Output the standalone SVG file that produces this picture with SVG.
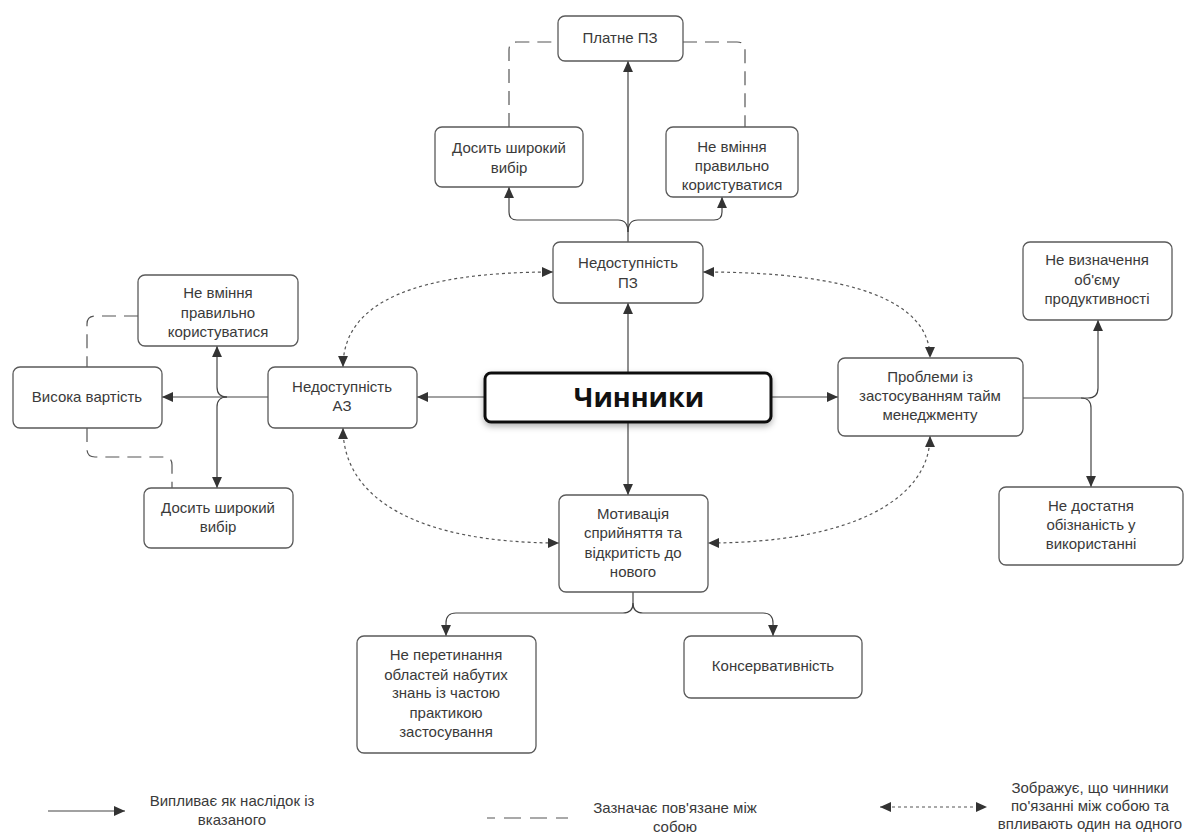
<svg xmlns="http://www.w3.org/2000/svg" width="1194" height="837" viewBox="0 0 1194 837">
<style>
.box{fill:#fff;stroke:#5a5a5a;stroke-width:1.3}
.t{font-family:"Liberation Sans",Arial,sans-serif;font-size:15px;fill:#3a3a3a;text-anchor:middle}
.ln{fill:none;stroke:#444;stroke-width:1.2}
.dash{fill:none;stroke:#555;stroke-width:1.2;stroke-dasharray:14 8}
.dot{fill:none;stroke:#555;stroke-width:1.2;stroke-dasharray:3 3}
</style>
<defs>
<marker id="ah" viewBox="0 0 10 10" refX="10" refY="5" markerWidth="11" markerHeight="11" markerUnits="userSpaceOnUse" orient="auto-start-reverse">
<path d="M0,0.5 L10,5 L0,9.5 z" fill="#333"/>
</marker>
<filter id="sh" x="-10%" y="-30%" width="120%" height="170%">
<feDropShadow dx="0" dy="3" stdDeviation="3" flood-color="#000" flood-opacity="0.3"/>
</filter>
</defs>
<rect width="1194" height="837" fill="#fff"/>

<g id="connectors">
<path class="ln" d="M628,373 L628,303" marker-end="url(#ah)"/>
<path class="ln" d="M628,422 L628,495" marker-end="url(#ah)"/>
<path class="ln" d="M485,397 L417,397" marker-end="url(#ah)"/>
<path class="ln" d="M771,397 L838,397" marker-end="url(#ah)"/>
<path class="ln" d="M628,242 L628,61" marker-end="url(#ah)"/>
<path class="ln" d="M628,232 Q628,220 618,220 L517,220 Q509,220 509,212 L509,187" marker-end="url(#ah)"/>
<path class="ln" d="M628,232 Q628,220 638,220 L714,220 Q722,220 722,212 L722,197" marker-end="url(#ah)"/>
<path class="dash" d="M509,127 L509,50 Q509,42 517,42 L558,42"/>
<path class="dash" d="M683,42 L737,42 Q745,42 745,50 L745,127"/>
<path class="ln" d="M268,397 L162,397" marker-end="url(#ah)"/>
<path class="ln" d="M227,397 Q217,397 217,387 L217,346" marker-end="url(#ah)"/>
<path class="ln" d="M227,397 Q217,397 217,407 L217,488" marker-end="url(#ah)"/>
<path class="dash" d="M138,316 L95,316 Q87,316 87,324 L87,367"/>
<path class="dash" d="M87,428 L87,449 Q87,457 95,457 L164,457 Q172,457 172,465 L172,488"/>
<path class="ln" d="M1023,398 L1088,398 Q1098,398 1098,388 L1098,320" marker-end="url(#ah)"/>
<path class="ln" d="M1081,398 Q1091,398 1091,408 L1091,487" marker-end="url(#ah)"/>
<path class="ln" d="M633,592 L633,603 Q633,613 623,613 L456,613 Q446,613 446,623 L446,636" marker-end="url(#ah)"/>
<path class="ln" d="M633,603 Q633,613 643,613 L763,613 Q773,613 773,623 L773,636" marker-end="url(#ah)"/>
<path class="dot" d="M553,272 C420,272 343,300 343,367" marker-start="url(#ah)" marker-end="url(#ah)"/>
<path class="dot" d="M703,272 C850,272 930,300 930,358" marker-start="url(#ah)" marker-end="url(#ah)"/>
<path class="dot" d="M343,428 C343,500 420,543 559,543" marker-start="url(#ah)" marker-end="url(#ah)"/>
<path class="dot" d="M930,436 C930,500 850,543 708,543" marker-start="url(#ah)" marker-end="url(#ah)"/>
</g>

<g id="n-chynnyky">
<rect x="485" y="373" width="286" height="49" rx="6" fill="#fff" stroke="#111" stroke-width="3" filter="url(#sh)"/>
<text x="639" y="407" font-family="'Open Sans','Liberation Sans',sans-serif" font-size="27" font-weight="bold" fill="#111" text-anchor="middle">Чинники</text>
</g>

<g id="n-platne">
<rect class="box" x="558" y="16" width="125" height="45" rx="7"/>
<text class="t" x="620" y="43">Платне ПЗ</text>
</g>

<g id="n-vybir-top">
<rect class="box" x="435" y="127" width="148" height="60" rx="7"/>
<text class="t" x="509" y="153">Досить широкий</text>
<text class="t" x="509" y="173">вибір</text>
</g>

<g id="n-vminnia-top">
<rect class="box" x="666" y="127" width="132" height="70" rx="7"/>
<text class="t" x="732" y="152">Не вміння</text>
<text class="t" x="732" y="171">правильно</text>
<text class="t" x="732" y="190">користуватися</text>
</g>

<g id="n-pz">
<rect class="box" x="553" y="242" width="150" height="61" rx="7"/>
<text class="t" x="628" y="268">Недоступність</text>
<text class="t" x="628" y="288">ПЗ</text>
</g>

<g id="n-vminnia-left">
<rect class="box" x="138" y="275" width="160" height="71" rx="7"/>
<text class="t" x="218" y="298">Не вміння</text>
<text class="t" x="218" y="318">правильно</text>
<text class="t" x="218" y="337">користуватися</text>
</g>

<g id="n-vartist">
<rect class="box" x="13" y="367" width="149" height="61" rx="7"/>
<text class="t" x="87" y="402">Висока вартість</text>
</g>

<g id="n-az">
<rect class="box" x="268" y="367" width="149" height="61" rx="7"/>
<text class="t" x="342" y="392">Недоступність</text>
<text class="t" x="342" y="411">АЗ</text>
</g>

<g id="n-vybir-left">
<rect class="box" x="144" y="488" width="149" height="60" rx="7"/>
<text class="t" x="218" y="513">Досить широкий</text>
<text class="t" x="218" y="532">вибір</text>
</g>

<g id="n-problemy">
<rect class="box" x="838" y="358" width="185" height="78" rx="7"/>
<text class="t" x="930" y="382">Проблеми із</text>
<text class="t" x="930" y="401">застосуванням тайм</text>
<text class="t" x="930" y="420">менеджменту</text>
</g>

<g id="n-vyznachennia">
<rect class="box" x="1023" y="242" width="149" height="78" rx="7"/>
<text class="t" x="1097" y="265">Не визначення</text>
<text class="t" x="1097" y="285">об'єму</text>
<text class="t" x="1097" y="304">продуктивності</text>
</g>

<g id="n-obiznanist">
<rect class="box" x="999" y="487" width="184" height="78" rx="7"/>
<text class="t" x="1091" y="511">Не достатня</text>
<text class="t" x="1091" y="530">обізнаність у</text>
<text class="t" x="1091" y="549">використанні</text>
</g>

<g id="n-motyvatsia">
<rect class="box" x="559" y="495" width="149" height="97" rx="7"/>
<text class="t" x="633" y="519">Мотивація</text>
<text class="t" x="633" y="538">сприйняття та</text>
<text class="t" x="633" y="558">відкритість до</text>
<text class="t" x="633" y="577">нового</text>
</g>

<g id="n-peretynannia">
<rect class="box" x="357" y="636" width="179" height="117" rx="7"/>
<text class="t" x="446" y="660">Не перетинання</text>
<text class="t" x="446" y="680">областей набутих</text>
<text class="t" x="446" y="698">знань із частою</text>
<text class="t" x="446" y="718">практикою</text>
<text class="t" x="446" y="737">застосування</text>
</g>

<g id="n-konservatyvnist">
<rect class="box" x="684" y="636" width="178" height="62" rx="7"/>
<text class="t" x="773" y="671">Консервативність</text>
</g>

<g id="legend">
<path class="ln" d="M48,811 L125,811" marker-end="url(#ah)"/>
<text class="t" x="232" y="806">Випливає як наслідок із</text>
<text class="t" x="232" y="825">вказаного</text>
<path fill="none" stroke="#555" stroke-width="1.2" stroke-dasharray="8 9 17 9 17 9 8 0" d="M487,818 L568,818"/>
<text class="t" x="675" y="813">Зазначає пов'язане між</text>
<text class="t" x="675" y="832">собою</text>
<path class="dot" d="M880,807 L987,807" marker-start="url(#ah)" marker-end="url(#ah)"/>
<text class="t" x="1090" y="793">Зображує, що чинники</text>
<text class="t" x="1090" y="811">по'язанні між собою та</text>
<text class="t" x="1090" y="829">впливають один на одного</text>
</g>
</svg>
